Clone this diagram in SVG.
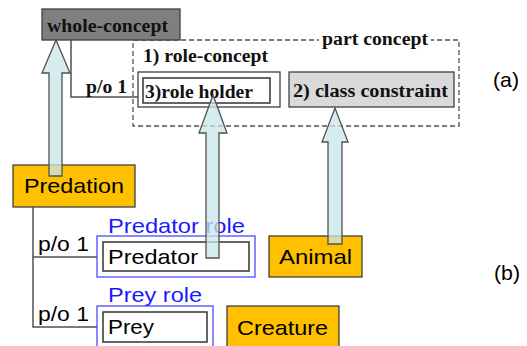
<svg xmlns="http://www.w3.org/2000/svg" width="527" height="346" viewBox="0 0 527 346">
<style>
.serif{font-family:"Liberation Serif",serif;font-weight:bold;font-size:18px;fill:#111}
.sans{font-family:"Liberation Sans",Arial,sans-serif;fill:#000;font-size:21px}
.orange{fill:#ffc000;stroke:#404040;stroke-width:1.3}
.line{fill:none;stroke:#505050;stroke-width:1.5}
.arrow{fill:#c9e6e8;fill-opacity:0.75;stroke:#505050;stroke-width:1.3}
.blue{fill:none;stroke:#4a4aff;stroke-width:1.3}
.inner{fill:#fff;stroke:#333;stroke-width:1.5}
.bluetext{font-family:"Liberation Sans",Arial,sans-serif;font-size:21px;fill:#1a1aff}
</style>
<rect width="527" height="346" fill="#fff"/>
<g id="part-concept">
<rect x="133" y="40" width="326" height="86" fill="none" stroke="#505050" stroke-width="1.3" stroke-dasharray="5,3"/>
<rect x="319" y="32" width="112" height="14" fill="#fff"/>
<text class="serif" x="322" y="45" textLength="106" lengthAdjust="spacingAndGlyphs">part concept</text>
<text class="serif" x="143" y="62" textLength="125" lengthAdjust="spacingAndGlyphs">1) role-concept</text>
</g>
<g id="whole-concept">
<rect x="42" y="9" width="138" height="31" fill="#7f7f7f" stroke="#404040" stroke-width="1.3"/>
<text class="serif" x="47" y="32" textLength="121" lengthAdjust="spacingAndGlyphs">whole-concept</text>
</g>
<g id="role-holder">
<rect x="138" y="72" width="142" height="35" fill="#fff" stroke="#404040" stroke-width="1.3"/>
<rect x="143" y="78" width="127" height="25" class="inner"/>
<text class="serif" x="145" y="98" textLength="108" lengthAdjust="spacingAndGlyphs">3)role holder</text>
</g>
<g id="class-constraint">
<rect x="289" y="72" width="165" height="35" fill="#d9d9d9" stroke="#404040" stroke-width="1.3"/>
<text class="serif" x="293" y="97" textLength="155" lengthAdjust="spacingAndGlyphs">2) class constraint</text>
</g>
<g id="predation">
<rect x="13" y="165" width="122" height="42" class="orange"/>
<text class="sans" x="24" y="193" textLength="100" lengthAdjust="spacingAndGlyphs">Predation</text>
</g>
<g id="predator-role">
<rect x="97" y="236" width="158" height="41" class="blue"/>
<rect x="103" y="242" width="146" height="29" class="inner"/>
<text class="bluetext" x="108" y="233" textLength="137" lengthAdjust="spacingAndGlyphs">Predator role</text>
<text class="sans" x="108" y="264" textLength="90" lengthAdjust="spacingAndGlyphs">Predator</text>
</g>
<g id="prey-role">
<rect x="97" y="306" width="116" height="44" class="blue"/>
<rect x="103" y="312" width="104" height="30" class="inner"/>
<text class="bluetext" x="108" y="302" textLength="94" lengthAdjust="spacingAndGlyphs">Prey role</text>
<text class="sans" x="108" y="334" textLength="46" lengthAdjust="spacingAndGlyphs">Prey</text>
</g>
<g id="animal">
<rect x="269" y="236" width="93" height="41" class="orange"/>
<text class="sans" x="279" y="264" textLength="73" lengthAdjust="spacingAndGlyphs">Animal</text>
</g>
<g id="creature">
<rect x="227" y="306" width="112" height="44" class="orange"/>
<text class="sans" x="237" y="335" textLength="91" lengthAdjust="spacingAndGlyphs">Creature</text>
</g>
<g id="labels">
<text class="sans" x="493" y="87" font-size="18" textLength="26" lengthAdjust="spacingAndGlyphs">(a)</text>
<text class="sans" x="494" y="280" font-size="18" textLength="26" lengthAdjust="spacingAndGlyphs">(b)</text>
</g>
<g id="connectors">
<path class="line" d="M71,40 V97 H138"/>
<text class="serif" x="86" y="93" textLength="41" lengthAdjust="spacingAndGlyphs">p/o 1</text>
<path class="line" d="M33,207 V327 H97 M33,257 H97"/>
<text class="sans" x="38" y="251" textLength="51" lengthAdjust="spacingAndGlyphs">p/o 1</text>
<text class="sans" x="38" y="321" textLength="51" lengthAdjust="spacingAndGlyphs">p/o 1</text>
<path class="arrow" d="M49,176 V73 H42 L56,40 L70,73 H62 V176 Z"/>
<path class="arrow" d="M206,258 V133 H199 L213,95 L227,133 H219 V258 Z"/>
<path class="arrow" d="M328,244 V142 H322 L335,108 L348,142 H342 V244 Z"/>
</g>
</svg>
